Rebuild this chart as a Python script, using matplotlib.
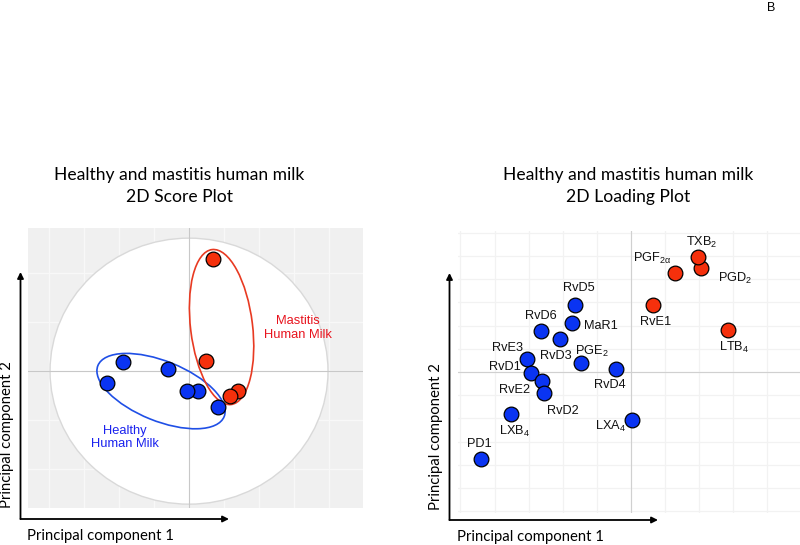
import matplotlib
matplotlib.use('Agg')
import matplotlib.pyplot as plt
from matplotlib.patches import Ellipse
import numpy as np

plt.rcParams['mathtext.fontset'] = 'custom'
plt.rcParams['mathtext.rm'] = 'Liberation Sans'
plt.rcParams['mathtext.it'] = 'Liberation Sans'
plt.rcParams['mathtext.bf'] = 'Liberation Sans:bold'

# ---------------- data: 2D score plot ----------------
healthy_pc1 = [-1.88, -2.33, -0.59, 0.26, -0.05, 0.84]
healthy_pc2 = [0.27, -0.33, 0.06, -0.56, -0.56, -1.02]
mastitis_pc1 = [0.69, 0.48, 1.39, 1.17]
mastitis_pc2 = [3.20, 0.28, -0.56, -0.71]

# confidence ellipses (center x, center y, width, height, angle)
healthy_ellipse = [-0.80, -0.57, 3.89, 1.71, -22]
mastitis_ellipse = [0.93, 1.26, 1.77, 4.46, 7]
score_circle = [0.0, 0.0, 7.94, 7.60]

# ---------------- data: 2D loading plot ----------------
mediators = ['PGD$_2$', 'TXB$_2$', 'PGF$_{2α}$', 'RvE1', 'LTB$_4$',
             'RvD5', 'MaR1', 'RvD6', 'RvD3', 'PGE$_2$', 'RvE3', 'RvD4',
             'RvD1', 'RvE2', 'RvD2', 'LXB$_4$', 'LXA$_4$', 'PD1']
load_pc1 = [2.07, 1.97, 1.29, 0.65, 2.85,
            -1.64, -1.74, -2.64, -2.08, -1.45, -3.04, -0.42,
            -2.94, -2.60, -2.55, -3.53, 0.04, -4.40]
load_pc2 = [4.47, 4.94, 4.25, 2.89, 1.81,
            2.89, 2.13, 1.78, 1.41, 0.40, 0.55, 0.13,
            -0.06, -0.39, -0.92, -1.81, -2.07, -3.76]
load_group = ['mastitis'] * 5 + ['healthy'] * 13

# label offsets (pixels) for loading plot annotations
label_offsets = {
    'PGD$_2$': (34, -10), 'TXB$_2$': (4, 15), 'PGF$_{2α}$': (-23, 15),
    'RvE1': (3, -17), 'LTB$_4$': (6, -17), 'RvD5': (4, 17),
    'MaR1': (29, -3), 'RvD6': (0, 15), 'RvD3': (-4, -17),
    'PGE$_2$': (10, 11), 'RvE3': (-20, 11), 'RvD4': (-7, -16),
    'RvD1': (-26, 6), 'RvE2': (-28, -9), 'RvD2': (19, -18),
    'LXB$_4$': (4, -17), 'LXA$_4$': (-22, -6), 'PD1': (-2, 15),
}

BLUE = '#0a34f2'
RED = '#f5300c'
W, H = 800, 545

fig = plt.figure(figsize=(8, 5.45), dpi=100)


def px_axes(x0, y0, x1, y1):
    return fig.add_axes([x0 / W, 1 - y1 / H, (x1 - x0) / W, (y1 - y0) / H])


# ---------------- left panel ----------------
axL = px_axes(28, 228, 363, 508)
axL.set_xlim(-4.6, 4.97)
axL.set_ylim(-3.91, 4.09)
axL.set_facecolor('#f0f0f0')
for s in axL.spines.values():
    s.set_visible(False)
axL.set_xticks(np.arange(-4, 5, 1))
axL.set_yticks(np.arange(-2, 3) * 1.4)
axL.tick_params(length=0, labelleft=False, labelbottom=False)
axL.grid(True, color='#f8f8f8', lw=0.9, zorder=0)
axL.set_axisbelow(True)

cx, cy, cw, ch = score_circle
axL.add_patch(Ellipse((cx, cy), cw, ch, facecolor='white',
                      edgecolor='#d9d9d9', lw=1.0, zorder=1))
axL.axhline(0, color='#c8c8c8', lw=0.8, zorder=2)
axL.axvline(0, color='#c8c8c8', lw=0.8, zorder=2)

e = healthy_ellipse
axL.add_patch(Ellipse((e[0], e[1]), e[2], e[3], angle=e[4], fill=False,
                      edgecolor='#1f4fe6', lw=1.2, zorder=3))
e = mastitis_ellipse
axL.add_patch(Ellipse((e[0], e[1]), e[2], e[3], angle=e[4], fill=False,
                      edgecolor='#e83a22', lw=1.2, zorder=3))

axL.scatter(healthy_pc1, healthy_pc2, s=112, c=BLUE, edgecolors='black',
            linewidths=0.9, zorder=4)
axL.scatter(mastitis_pc1, mastitis_pc2, s=112, c=RED, edgecolors='black',
            linewidths=0.9, zorder=4)

axL.text(3.11, 1.23, 'Mastitis\nHuman Milk', color='#e8141e', ha='center',
         va='center', fontsize=9.3, family='Liberation Sans', linespacing=1.15,
         zorder=5)
axL.text(-1.83, -1.89, 'Healthy\nHuman Milk', color='#1a22ee', ha='center',
         va='center', fontsize=9.3, family='Liberation Sans', linespacing=1.15,
         zorder=5)

# ---------------- right panel ----------------
axR = px_axes(458, 231, 801, 513)
axR.set_xlim((458 - 631) / 34.1, (801 - 631) / 34.1)
axR.set_ylim(-(513 - 372) / 23.2, (372 - 231) / 23.2)
for s in axR.spines.values():
    s.set_visible(False)
axR.set_xticks(np.arange(-5, 6, 1))
axR.set_yticks(np.arange(-6, 7, 1))
axR.tick_params(length=0, labelleft=False, labelbottom=False)
axR.grid(True, color='#f2f2f2', lw=0.9, zorder=0)
axR.set_axisbelow(True)
axR.axhline(0, color='#d0d0d0', lw=0.8, zorder=1)
axR.axvline(0, color='#d0d0d0', lw=0.8, zorder=1)

for name, x, y, g in zip(mediators, load_pc1, load_pc2, load_group):
    col = RED if g == 'mastitis' else BLUE
    axR.scatter([x], [y], s=112, c=col, edgecolors='black', linewidths=0.9,
                zorder=3)
    dx, dy = label_offsets[name]
    axR.annotate(name, (x, y), xytext=(dx, dy), textcoords='offset pixels',
                 ha='center', va='center', fontsize=9.2, family='Liberation Sans',
                 color='#111111', zorder=4)

# ---------------- titles, arrows, axis labels ----------------
TFONT = 'Lato'
for xc, sub in [(179, '2D Score Plot'), (628, '2D Loading Plot')]:
    fig.text(xc / W, 1 - 175 / H, 'Healthy and mastitis human milk',
             ha='center', va='center', fontsize=12.6, family=TFONT)
    fig.text(xc / W, 1 - 197 / H, sub, ha='center', va='center',
             fontsize=12.6, family=TFONT)

arrow = dict(arrowstyle='-|>', color='black', lw=1.3, mutation_scale=9,
             shrinkA=0, shrinkB=0)
for ox, oy, tx, ty in [(20.5, 519, 229, 272), (449.5, 520, 658, 273)]:
    fig.add_artist(matplotlib.patches.FancyArrowPatch(
        (ox / W, 1 - oy / H), (ox / W, 1 - ty / H), transform=fig.transFigure,
        **arrow))
    fig.add_artist(matplotlib.patches.FancyArrowPatch(
        (ox / W, 1 - oy / H), (tx / W, 1 - oy / H), transform=fig.transFigure,
        **arrow))

for xc, y1c, x2c, y2c in [(100, 536, 7.5, 435), (530, 537, 436, 437)]:
    fig.text(xc / W, 1 - y1c / H, 'Principal component 1', ha='center',
             va='center', fontsize=10.7, family=TFONT)
    fig.text(x2c / W, 1 - y2c / H, 'Principal component 2', ha='center',
             va='center', fontsize=10.7, family=TFONT, rotation=90)

fig.text(771 / W, 1 - 8 / H, 'B', ha='center', va='center', fontsize=9,
         family='Liberation Sans')

fig.savefig('out.png', dpi=100)
